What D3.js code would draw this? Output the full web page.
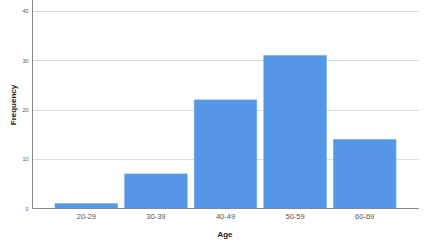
<!DOCTYPE html>
<html>
<head>
<meta charset="utf-8">
<script src="https://cdn.jsdelivr.net/npm/d3@7"></script>
<style>
  body { margin: 0; background: #fff; }
  svg { display: block; font-family: Arial, "Liberation Sans", sans-serif; }
</style>
</head>
<body>
<svg id="chart" width="424" height="246"></svg>
<script>
// age groups and how many people fall in each
var ageGroups = ['20-29', '30-39', '40-49', '50-59', '60-69'];
var frequencies = [1, 7, 22, 31, 14];
var yTicks = [0, 10, 20, 30, 40];

var svg = d3.select('#chart');
var left = 32.5, right = 419, top = 0, bottom = 208.5;

var x = d3.scaleBand()
    .domain(ageGroups)
    .range([51.5, 399.5])
    .paddingInner(0.1)
    .paddingOuter(0.05);

var y = d3.scaleLinear()
    .domain([0, 40])
    .range([bottom, 11]);

// gridlines
svg.append('g')
    .selectAll('line')
    .data(yTicks.filter(function(t){ return t > 0; }))
    .enter()
    .append('line')
    .attr('x1', left).attr('x2', right)
    .attr('y1', function(t){ return Math.round(y(t)) + 0.5; })
    .attr('y2', function(t){ return Math.round(y(t)) + 0.5; })
    .attr('stroke', '#dcdcdc')
    .attr('stroke-width', 1);

// bars
svg.append('g')
    .selectAll('rect')
    .data(ageGroups)
    .enter()
    .append('rect')
    .attr('x', function(d){ return x(d); })
    .attr('width', x.bandwidth())
    .attr('y', function(d, i){ return y(frequencies[i]); })
    .attr('height', function(d, i){ return bottom - y(frequencies[i]); })
    .attr('fill', '#5596e6')
    .attr('stroke', '#7aaeee')
    .attr('stroke-width', 0.6);

// y axis
var yAxis = svg.append('g')
    .attr('transform', 'translate(' + left + ',0)')
    .call(d3.axisLeft(y).tickValues(yTicks).tickSize(0).tickPadding(4));
yAxis.select('.domain').remove();
yAxis.selectAll('text')
    .attr('font-size', 5.5)
    .attr('fill', '#555');
svg.append('line')
    .attr('x1', left).attr('x2', left)
    .attr('y1', 0).attr('y2', bottom)
    .attr('stroke', '#888').attr('stroke-width', 1);

// x axis
var xAxis = svg.append('g')
    .attr('transform', 'translate(0,' + bottom + ')')
    .call(d3.axisBottom(x).tickSize(0).tickPadding(5));
xAxis.select('.domain').remove();
xAxis.selectAll('text')
    .attr('font-size', 7.5)
    .attr('fill', '#555');
svg.append('line')
    .attr('x1', left).attr('x2', right)
    .attr('y1', bottom).attr('y2', bottom)
    .attr('stroke', '#888').attr('stroke-width', 1);

// axis titles
svg.append('text')
    .attr('x', 225).attr('y', 237)
    .attr('text-anchor', 'middle')
    .attr('font-size', 8)
    .attr('font-weight', 'bold')
    .attr('fill', '#222')
    .text('Age');

svg.append('text')
    .attr('transform', 'translate(16,105) rotate(-90)')
    .attr('text-anchor', 'middle')
    .attr('font-size', 8)
    .attr('font-weight', 'bold')
    .attr('fill', '#222')
    .text('Frequency');
</script>
</body>
</html>
